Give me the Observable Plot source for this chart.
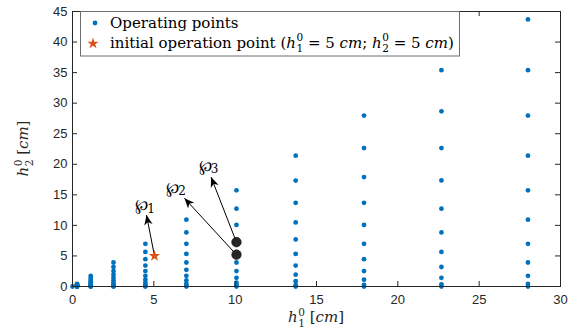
<!DOCTYPE html>
<html><head><meta charset="utf-8">
<script src="https://cdn.jsdelivr.net/npm/d3@7"></script>
<script src="https://cdn.jsdelivr.net/npm/@observablehq/plot@0.6"></script>
<style>body{margin:0;background:#fff}svg{display:block}</style>
</head><body><div id="chart"></div>
<script>
// ---- data ----
const h1Cols = [0, 0.28, 1.12, 2.52, 4.48, 7.00, 10.08, 13.72, 17.92, 22.68, 28.00];
const h2Cols = [
  [0],
  [0, 0.004, 0.02, 0.04, 0.07, 0.11, 0.16, 0.21, 0.28, 0.35, 0.44],
  [0, 0.02, 0.07, 0.16, 0.28, 0.44, 0.63, 0.86, 1.12, 1.42, 1.75],
  [0, 0.04, 0.16, 0.35, 0.63, 0.98, 1.42, 1.93, 2.52, 3.19, 3.93],
  [0, 0.07, 0.28, 0.63, 1.12, 1.75, 2.52, 3.43, 4.47, 5.66, 6.99],
  [0, 0.11, 0.44, 0.98, 1.75, 2.73, 3.93, 5.35, 6.99, 8.85, 10.93],
  [0, 0.16, 0.63, 1.42, 2.52, 3.93, 5.66, 7.71, 10.07, 12.74, 15.73],
  [0, 0.21, 0.86, 1.93, 3.43, 5.35, 7.71, 10.49, 13.70, 17.34, 21.41],
  [0, 0.28, 1.12, 2.52, 4.47, 6.99, 10.07, 13.70, 17.90, 22.65, 27.97],
  [0, 0.35, 1.42, 3.19, 5.66, 8.85, 12.74, 17.35, 22.65, 28.67, 35.40],
  [0, 0.44, 1.75, 3.93, 6.99, 10.93, 15.73, 21.41, 27.97, 35.40, 43.70]
];
const initH1 = [5.04];
const initH2 = [5.0];
const markedH1 = [10.08, 10.08];
const markedH2 = [5.2, 7.25];
const dirSymbol = ["\u2118", "\u2118", "\u2118"];
const dirIndex = ["1", "2", "3"];
const dirFromH1 = [5.04, 10.08, 10.08];
const dirFromH2 = [5.0, 5.2, 7.25];
const dirToH1 = [4.55, 6.88, 8.52];
const dirToH2 = [11.7, 14.45, 17.9];
const dirLabelH1 = [4.25, 6.15, 8.15];
const dirLabelH2 = [13.3, 16.1, 19.8];
const xTicks = [0, 5, 10, 15, 20, 25, 30];
const yTicks = [0, 5, 10, 15, 20, 25, 30, 35, 40, 45];

// ---- tables ----
const points = h1Cols.flatMap((h1, i) => h2Cols[i].map(h2 => ({h1, h2})));
const initPt = initH1.map((h1, i) => ({h1, h2: initH2[i]}));
const marked = markedH1.map((h1, i) => ({h1, h2: markedH2[i]}));
const dirs = dirSymbol.map((sym, i) => ({sym, sub: dirIndex[i], x1: dirFromH1[i], y1: dirFromH2[i], x2: dirToH1[i], y2: dirToH2[i], lx: dirLabelH1[i], ly: dirLabelH2[i]}));

const W = 578, H = 330, ML = 72, MR = 18, MT = 11, MB = 44;
const PW = W - ML - MR, PH = H - MT - MB;
const AX = "#262626";
const BLUE = "#0072BD", ORANGE = "#D95319";
const SERIF = "DejaVu Serif, Liberation Serif, serif";

// filled, swept-back arrow head (MATLAB-style)
function headMarker(color) {
  const ns = "http://www.w3.org/2000/svg";
  const m = document.createElementNS(ns, "marker");
  m.setAttribute("viewBox", "-11 -6 12 12");
  m.setAttribute("markerWidth", 12);
  m.setAttribute("markerHeight", 12);
  m.setAttribute("markerUnits", "userSpaceOnUse");
  m.setAttribute("refX", 0);
  m.setAttribute("refY", 0);
  m.setAttribute("orient", "auto");
  const p = document.createElementNS(ns, "path");
  p.setAttribute("d", "M0,0L-10,-4.2L-7.2,0L-10,4.2Z");
  p.setAttribute("fill", color);
  p.setAttribute("stroke", "none");
  m.appendChild(p);
  return m;
}

const chart = Plot.plot({
  width: W, height: H, marginLeft: ML, marginRight: MR, marginTop: MT, marginBottom: MB,
  style: {fontFamily: "'Liberation Sans', Arial, sans-serif", fontSize: "13px", color: AX, background: "#fff"},
  x: {domain: [0, 30]},
  y: {domain: [0, 45]},
  marks: [
    Plot.dot(points, {x: "h1", y: "h2", r: 2.4, fill: BLUE, stroke: "none"}),
    Plot.link(dirs, {x1: "x1", y1: "y1", x2: "x2", y2: "y2", stroke: "#000", strokeWidth: 1, markerEnd: headMarker}),
    Plot.dot(marked, {x: "h1", y: "h2", r: 4.8, fill: AX, stroke: "#000", strokeWidth: 0.5}),
    Plot.dot(initPt, {x: "h1", y: "h2", symbol: "star", r: 3.6, fill: ORANGE, stroke: "none"}),
    Plot.text(dirs, {x: "lx", y: "ly", text: "sym", fontFamily: SERIF, fontSize: 16, fill: "#000"}),
    Plot.text(dirs, {x: "lx", y: "ly", text: "sub", dx: 9.5, dy: 3.5, fontFamily: SERIF, fontSize: 12, fill: "#000"}),
    Plot.frame({stroke: AX, strokeWidth: 1}),
    Plot.tickX(xTicks, {x: d => d, insetTop: PH - 5, stroke: AX}),
    Plot.tickX(xTicks, {x: d => d, insetBottom: PH - 5, stroke: AX}),
    Plot.tickY(yTicks, {y: d => d, insetRight: PW - 5, stroke: AX}),
    Plot.tickY(yTicks, {y: d => d, insetLeft: PW - 5, stroke: AX}),
    Plot.axisX(xTicks, {tickSize: 0, tickPadding: 8, label: null, fill: AX}),
    Plot.axisY(yTicks, {tickSize: 0, tickPadding: 5, label: null, fill: AX})
  ]
});

const svg = d3.select(chart);

function seg(t, str, o = {}) {
  const s = t.append("tspan").text(str);
  if (o.italic) s.attr("font-style", "italic");
  if (o.size) s.attr("font-size", o.size);
  if (o.dx) s.attr("dx", o.dx);
  if (o.dy) s.attr("dy", o.dy);
  return s;
}
// h with stacked superscript 0 and subscript n
function hvar(t, sub, fs) {
  const s = fs * 0.7;
  seg(t, "h", {italic: true});
  seg(t, "0", {size: s, dy: -fs * 0.42, dx: 0.5});
  seg(t, sub, {size: s, dx: -s * 0.636, dy: fs * 0.72});
  return -fs * 0.30; // pending dy to restore baseline
}

// legend
const lg = svg.append("g").attr("text-anchor", "start");
lg.append("rect").attr("x", 80.5).attr("y", MT + 0.5).attr("width", 379).attr("height", 44.5)
  .attr("fill", "#fff").attr("stroke", "#6e6e6e").attr("stroke-width", 1);
lg.append("circle").attr("cx", 95).attr("cy", 23).attr("r", 2.4).attr("fill", BLUE);
lg.append("path").attr("d", d3.symbol(d3.symbolStar, Math.PI * 3.6 * 3.6)()).attr("transform", "translate(93,43.5)").attr("fill", ORANGE);
const l1 = lg.append("text").attr("x", 110).attr("y", 27.5).attr("text-anchor", "start").attr("font-family", SERIF).attr("font-size", 15).attr("fill", "#000");
seg(l1, "Operating points");
const l2 = lg.append("text").attr("x", 110).attr("y", 47.5).attr("text-anchor", "start").attr("font-family", SERIF).attr("font-size", 15).attr("fill", "#000");
seg(l2, "initial operation point (");
let r = hvar(l2, "1", 15);
seg(l2, " = 5 ", {dy: r});
seg(l2, "cm", {italic: true});
seg(l2, "; ");
r = hvar(l2, "2", 15);
seg(l2, " = 5 ", {dy: r});
seg(l2, "cm", {italic: true});
seg(l2, ")");

// axis labels
const xl = svg.append("text").attr("x", ML + PW / 2).attr("y", 322).attr("text-anchor", "middle")
  .attr("font-family", SERIF).attr("font-size", 15).attr("fill", AX);
r = hvar(xl, "1", 15);
seg(xl, " [", {dy: r});
seg(xl, "cm", {italic: true});
seg(xl, "]");

const yl = svg.append("text").attr("transform", `translate(28,${MT + PH / 2}) rotate(-90)`).attr("text-anchor", "middle")
  .attr("font-family", SERIF).attr("font-size", 15).attr("fill", AX);
r = hvar(yl, "2", 15);
seg(yl, " [", {dy: r});
seg(yl, "cm", {italic: true});
seg(yl, "]");

document.getElementById("chart").appendChild(chart);
</script>
</body></html>
